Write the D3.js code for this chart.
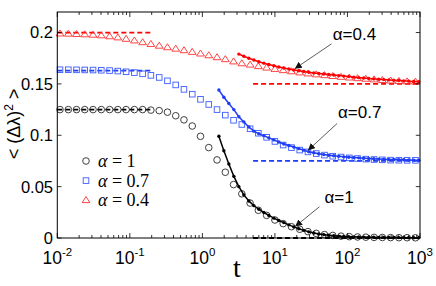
<!DOCTYPE html>
<html>
<head>
<meta charset="utf-8">
<script src="https://cdn.jsdelivr.net/npm/d3@7"></script>
<style>
  body { margin: 0; background: #fff; }
  svg { display: block; font-family: "Liberation Sans", Arial, Helvetica, sans-serif; }
</style>
</head>
<body>
<svg id="chart" width="436" height="286"></svg>
<script>
// simulation times (log spaced)
var tData = [0.0109, 0.0142, 0.0184, 0.0239, 0.0311, 0.0404, 0.0526, 0.0683, 0.0888, 0.1155,
  0.150, 0.195, 0.254, 0.330, 0.429, 0.557, 0.725, 0.942, 1.225, 1.592,
  2.070, 2.691, 3.498, 4.548, 5.912, 7.686, 9.99, 12.99, 16.89, 21.96,
  28.54, 37.11, 48.24, 62.71, 81.53, 106.0, 137.8, 179.1, 232.8, 302.7,
  393.5, 511.6, 665.0, 864.5];

var simAlpha1 = [0.125, 0.125, 0.125, 0.125, 0.125, 0.125, 0.125, 0.125, 0.125, 0.125,
  0.125, 0.1245, 0.124, 0.1225, 0.119, 0.115, 0.109, 0.099, 0.088, 0.076,
  0.064, 0.052, 0.043, 0.034, 0.027, 0.022, 0.0175, 0.014, 0.011, 0.0085,
  0.0062, 0.0045, 0.0033, 0.0025, 0.0018, 0.0013, 0.001, 0.0008, 0.0006, 0.0005,
  0.0004, 0.0003, 0.0003, 0.0002];

var simAlpha07 = [0.1638, 0.1638, 0.1637, 0.1636, 0.1635, 0.1633, 0.1630, 0.1625, 0.1618, 0.1610,
  0.1598, 0.1583, 0.1563, 0.1530, 0.1490, 0.1447, 0.1400, 0.1350, 0.1300, 0.1250,
  0.1196, 0.1146, 0.1105, 0.1063, 0.1020, 0.0980, 0.0940, 0.0905, 0.0880, 0.0856,
  0.0838, 0.0822, 0.0807, 0.0796, 0.0788, 0.0780, 0.0774, 0.0768, 0.0764, 0.0761,
  0.0758, 0.0757, 0.0756, 0.0756];

var simAlpha04 = [0.1990, 0.1988, 0.1985, 0.1982, 0.1978, 0.1972, 0.1963, 0.1952, 0.1938, 0.1922,
  0.1905, 0.1888, 0.1871, 0.1856, 0.1842, 0.1827, 0.1811, 0.1795, 0.1778, 0.1759,
  0.1740, 0.1718, 0.1700, 0.1687, 0.1672, 0.1658, 0.1645, 0.1633, 0.1622, 0.1611,
  0.1601, 0.1592, 0.1584, 0.1576, 0.1568, 0.1561, 0.1555, 0.1549, 0.1543, 0.1537,
  0.1532, 0.1528, 0.1524, 0.1521];

// long time fits
var tFit = [1.688, 1.978, 2.317, 2.716, 3.183, 3.730, 4.371, 5.122, 6.002, 7.033,
  8.241, 9.658, 11.32, 13.26, 15.54, 18.21, 21.34, 25.01, 29.31, 34.34,
  40.24, 47.16, 55.26, 64.76, 75.89, 88.93, 104.2, 122.1, 143.1, 167.7,
  196.5, 230.3, 269.9, 316.2, 370.6, 434.3, 508.9, 596.4, 698.9, 819.0, 959.8];

var fitAlpha1 = [0.099, 0.085, 0.072, 0.060, 0.050, 0.042, 0.036, 0.0315, 0.0280, 0.0248,
  0.0220, 0.0193, 0.0170, 0.0150, 0.0128, 0.0108, 0.0090, 0.0074, 0.0060, 0.0049,
  0.0040, 0.0033, 0.0027, 0.0022, 0.0018, 0.0015, 0.0013, 0.0011, 0.0010, 0.0009,
  0.0008, 0.0007, 0.0006, 0.0006, 0.0005, 0.0005, 0.0004, 0.0004, 0.0003, 0.0003, 0.0003];

var fitAlpha07 = [0.144, 0.137, 0.131, 0.125, 0.118, 0.113, 0.108, 0.104, 0.1015, 0.0995,
  0.0975, 0.0955, 0.0935, 0.0915, 0.0900, 0.0885, 0.0870, 0.0855, 0.0840, 0.0830,
  0.0820, 0.0812, 0.0806, 0.0800, 0.0795, 0.0790, 0.0786, 0.0783, 0.0780, 0.0777,
  0.0774, 0.0771, 0.0768, 0.0766, 0.0765, 0.0764, 0.0763, 0.0761, 0.0760, 0.0758, 0.0757];

// the alpha=0.4 fit starts at tFit[4]
var fitAlpha04 = [0.1790, 0.1769, 0.1750, 0.1733, 0.1716, 0.1702, 0.1689, 0.1677, 0.1665, 0.1655,
  0.1645, 0.1636, 0.1628, 0.1621, 0.1614, 0.1607, 0.1601, 0.1596, 0.1591, 0.1586,
  0.1581, 0.1576, 0.1571, 0.1566, 0.1561, 0.1557, 0.1553, 0.1549, 0.1545, 0.1542,
  0.1539, 0.1536, 0.1533, 0.1530, 0.1527, 0.1524, 0.1521];

// asymptotes
var shortTimeLevel = [0.125, 0.163, 0.2];
var longTimeLevel = [0, 0.075, 0.150];
var shortTimeSpan = [0.01, 0.2];
var longTimeSpan = [5, 1000];

var alphaLabels = ["1", "0.7", "0.4"];
var yTicks = [0, 0.05, 0.1, 0.15, 0.2];
var yTickLabels = ["0", "0.05", "0.1", "0.15", "0.2"];
var xTickExponents = [-2, -1, 0, 1, 2, 3];

// annotation: label, text anchor (t, value), arrow start, arrow tip
var noteLabels = ["α=0.4", "α=0.7", "α=1"];
var noteText = [[62.7, 0.1923], [74.1, 0.1165], [48.2, 0.0337]];
var noteFrom = [[60.3, 0.189], [71.9, 0.1114], [41.1, 0.0304]];
var noteTip = [[18.8, 0.1648], [28.6, 0.0854], [19.0, 0.0112]];


var svg = d3.select("#chart");

var x = d3.scaleLog().domain([1e-2, 1e3]).range([57.3, 420]);
var y = d3.scaleLinear().domain([0, 0.22]).range([238, 12]);

var markerColor = ["#2a2a2a", "#3b5bff", "#ff3030"];
var lineColor = ["#000000", "#1f3df5", "#ff0000"];
var sims = [simAlpha1, simAlpha07, simAlpha04];
var fits = [fitAlpha1, fitAlpha07, fitAlpha04];
var fitStart = [0, 0, 4];

function drawMarker(g, kind, color) {
  if (kind === 0) {
    g.append("circle").attr("r", 3.3)
      .attr("fill", "none").attr("stroke", color).attr("stroke-width", 0.9);
  } else if (kind === 1) {
    g.append("rect").attr("x", -2.8).attr("y", -2.8).attr("width", 5.6).attr("height", 5.6)
      .attr("fill", "none").attr("stroke", color).attr("stroke-width", 0.9);
  } else {
    g.append("path").attr("d", "M0,-3.6L3.9,2.4L-3.9,2.4Z")
      .attr("fill", "none").attr("stroke", color).attr("stroke-width", 0.9);
  }
}

var plot = svg.append("g");

// dashed asymptotes
[0, 1, 2].forEach(function (k) {
  plot.append("line")
    .attr("x1", x(shortTimeSpan[0])).attr("x2", x(shortTimeSpan[1]))
    .attr("y1", y(shortTimeLevel[k])).attr("y2", y(shortTimeLevel[k]))
    .attr("stroke", lineColor[k]).attr("stroke-width", 1.8)
    .attr("stroke-dasharray", "5,3");
  plot.append("line")
    .attr("x1", x(longTimeSpan[0])).attr("x2", x(longTimeSpan[1]))
    .attr("y1", y(longTimeLevel[k])).attr("y2", y(longTimeLevel[k]))
    .attr("stroke", lineColor[k]).attr("stroke-width", 1.8)
    .attr("stroke-dasharray", "5,3");
});

// simulation markers
[2, 1, 0].forEach(function (k) {
  sims[k].forEach(function (v, i) {
    var g = plot.append("g").attr("transform", "translate(" + x(tData[i]) + "," + y(v) + ")");
    drawMarker(g, k, markerColor[k]);
  });
});

// fits: line with dots
var line = d3.line()
  .x(function (d) { return x(d[0]); })
  .y(function (d) { return y(d[1]); });

[0, 1, 2].forEach(function (k) {
  var pts = fits[k].map(function (v, j) { return [tFit[j + fitStart[k]], v]; });
  plot.append("path")
    .attr("d", line(pts))
    .attr("fill", "none")
    .attr("stroke", lineColor[k])
    .attr("stroke-width", 1.5);
  plot.selectAll(null).data(pts).enter().append("circle")
    .attr("cx", function (d) { return x(d[0]); })
    .attr("cy", function (d) { return y(d[1]); })
    .attr("r", 1.7)
    .attr("fill", lineColor[k]);
});

// frame
svg.append("rect")
  .attr("x", 57.3).attr("y", 12)
  .attr("width", 420 - 57.3).attr("height", 238 - 12)
  .attr("fill", "none").attr("stroke", "#000").attr("stroke-width", 1);

// ticks, inward on all four sides
var allX = x.ticks();
function isMajor(v) {
  var l = Math.log10(v);
  return Math.abs(l - Math.round(l)) < 1e-6;
}
var ticks = svg.append("g").attr("stroke", "#000").attr("stroke-width", 0.8);
allX.forEach(function (v) {
  var len = isMajor(v) ? 5 : 3;
  ticks.append("line").attr("x1", x(v)).attr("x2", x(v)).attr("y1", 238).attr("y2", 238 - len);
  ticks.append("line").attr("x1", x(v)).attr("x2", x(v)).attr("y1", 12).attr("y2", 12 + len);
});
yTicks.forEach(function (v) {
  ticks.append("line").attr("x1", 57.3).attr("x2", 61.5).attr("y1", y(v)).attr("y2", y(v));
  ticks.append("line").attr("x1", 420).attr("x2", 415.8).attr("y1", y(v)).attr("y2", y(v));
});

// tick labels
svg.selectAll(".ylab").data(yTicks).enter().append("text")
  .attr("class", "ylab")
  .attr("x", 53).attr("y", function (d) { return y(d); })
  .attr("dy", "0.36em")
  .attr("text-anchor", "end")
  .attr("font-size", 16.5)
  .text(function (d, i) { return yTickLabels[i]; });

xTickExponents.forEach(function (e) {
  var t = svg.append("text")
    .attr("x", x(Math.pow(10, e)))
    .attr("y", 263.5)
    .attr("text-anchor", "middle")
    .attr("font-size", 17.5);
  t.append("tspan").text("10");
  t.append("tspan").attr("dy", -8).attr("font-size", 11.5).text(e < 0 ? "-" + (-e) : String(e));
});

// axis titles
svg.append("text")
  .attr("x", 237).attr("y", 276.5)
  .attr("text-anchor", "middle")
  .attr("font-family", "'Liberation Serif', 'Times New Roman', serif")
  .attr("font-size", 28)
  .text("t");

var yl = svg.append("text")
  .attr("transform", "translate(20,124) rotate(-90)")
  .attr("text-anchor", "middle")
  .attr("font-size", 18);
yl.append("tspan").text("< (Δλ)");
yl.append("tspan").attr("dy", -7).attr("font-size", 12).text("2");
yl.append("tspan").attr("dy", 7).text(" >");

// legend
var legend = svg.append("g").attr("transform", "translate(86,161)");
[0, 1, 2].forEach(function (k) {
  var row = legend.append("g").attr("transform", "translate(0," + (k * 19.6) + ")");
  drawMarker(row, k, markerColor[k]);
  var txt = row.append("text")
    .attr("x", 12).attr("y", 6)
    .attr("font-family", "'Liberation Serif', 'Times New Roman', serif")
    .attr("font-size", 18);
  txt.append("tspan").attr("font-style", "italic").text("α");
  txt.append("tspan").text(" = " + alphaLabels[k]);
});

// annotations with arrows
var defs = svg.append("defs");
defs.append("marker")
  .attr("id", "head")
  .attr("viewBox", "0 0 10 10")
  .attr("refX", 10).attr("refY", 5)
  .attr("markerWidth", 7).attr("markerHeight", 7)
  .attr("markerUnits", "userSpaceOnUse")
  .attr("orient", "auto")
  .append("path").attr("d", "M0,0L10,5L0,10Z").attr("fill", "#111");

noteLabels.forEach(function (label, k) {
  svg.append("line")
    .attr("x1", x(noteFrom[k][0])).attr("y1", y(noteFrom[k][1]))
    .attr("x2", x(noteTip[k][0])).attr("y2", y(noteTip[k][1]))
    .attr("stroke", "#333").attr("stroke-width", 0.8)
    .attr("marker-end", "url(#head)");
  svg.append("text")
    .attr("x", x(noteText[k][0])).attr("y", y(noteText[k][1]))
    .attr("font-size", 17)
    .text(label);
});
</script>
</body>
</html>
